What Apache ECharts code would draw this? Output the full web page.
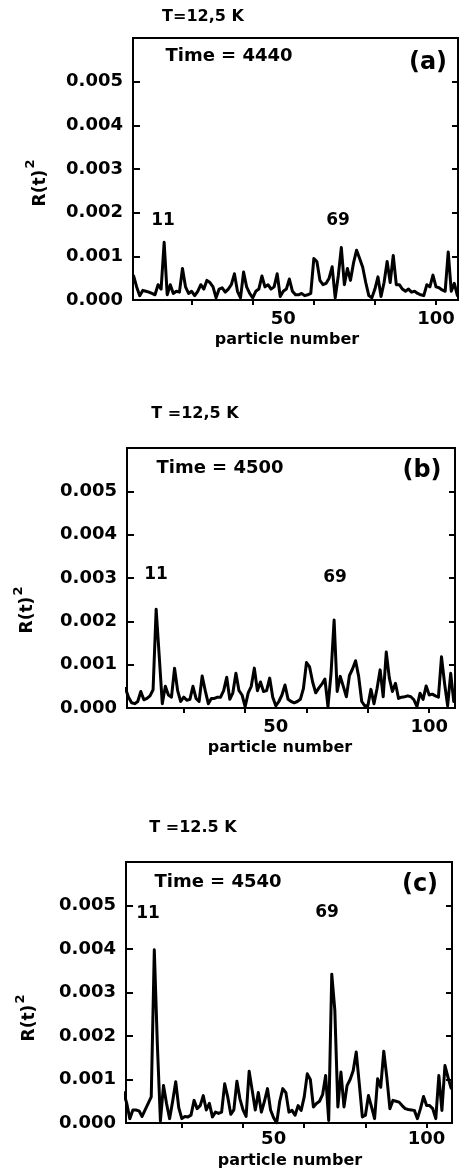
<!DOCTYPE html>
<html>
<head>
<meta charset="utf-8">
<script src="https://cdn.jsdelivr.net/npm/echarts@6/dist/echarts.min.js"></script>
<style>
html,body{margin:0;padding:0;background:#fff;}
#chart{width:459px;height:1171px;}
</style>
</head>
<body>
<div id="chart"></div>
<script>
// ---------------- data ----------------
const particles = [1,2,3,4,5,6,7,8,9,10,11,12,13,14,15,16,17,18,19,20,
  21,22,23,24,25,26,27,28,29,30,31,32,33,34,35,36,37,38,39,40,
  41,42,43,44,45,46,47,48,49,50,51,52,53,54,55,56,57,58,59,60,
  61,62,63,64,65,66,67,68,69,70,71,72,73,74,75,76,77,78,79,80,
  81,82,83,84,85,86,87,88,89,90,91,92,93,94,95,96,97,98,99,100,
  101,102,103,104,105,106,107,108];

// R(t)^2, Time = 4440
const valuesA = [
  0.00055,0.00030,0.00010,0.00022,0.00020,0.00018,0.00015,0.00012,0.00035,0.00025,
  0.00132,0.00012,0.00035,0.00015,0.00020,0.00018,0.00072,0.00030,0.00015,0.00020,
  0.00010,0.00020,0.00035,0.00025,0.00045,0.00040,0.00030,0.00005,0.00025,0.00028,
  0.00018,0.00025,0.00035,0.00060,0.00020,0.00005,0.00064,0.00030,0.00015,0.00005,
  0.00020,0.00025,0.00055,0.00030,0.00035,0.00025,0.00030,0.00060,0.00008,0.00020,
  0.00025,0.00048,0.00020,0.00012,0.00012,0.00015,0.00010,0.00012,0.00015,0.00095,
  0.00088,0.00045,0.00035,0.00038,0.00050,0.00076,0.00005,0.00055,0.00120,0.00035,
  0.00072,0.00045,0.00085,0.00114,0.00095,0.00075,0.00040,0.00010,0.00005,0.00025,
  0.00053,0.00008,0.00040,0.00088,0.00040,0.00102,0.00035,0.00035,0.00025,0.00020,
  0.00025,0.00018,0.00020,0.00015,0.00012,0.00010,0.00035,0.00030,0.00057,0.00030,
  0.00028,0.00023,0.00020,0.00110,0.00020,0.00038,0.00010,0.00020];

// R(t)^2, Time = 4500
const valuesB = [
  0.00045,0.00025,0.00012,0.00010,0.00015,0.00038,0.00019,0.00022,0.00028,0.00042,
  0.00228,0.00120,0.00010,0.00050,0.00030,0.00025,0.00092,0.00040,0.00015,0.00025,
  0.00018,0.00020,0.00050,0.00022,0.00015,0.00074,0.00040,0.00010,0.00022,0.00022,
  0.00025,0.00025,0.00040,0.00071,0.00020,0.00035,0.00080,0.00040,0.00030,0.00003,
  0.00035,0.00050,0.00092,0.00040,0.00060,0.00038,0.00040,0.00069,0.00025,0.00005,
  0.00015,0.00030,0.00053,0.00020,0.00015,0.00012,0.00015,0.00020,0.00045,0.00105,
  0.00095,0.00060,0.00035,0.00046,0.00055,0.00067,0.00003,0.00080,0.00203,0.00038,
  0.00073,0.00050,0.00026,0.00075,0.00090,0.00109,0.00073,0.00015,0.00005,0.00005,
  0.00043,0.00010,0.00045,0.00088,0.00026,0.00129,0.00069,0.00038,0.00057,0.00022,
  0.00025,0.00026,0.00028,0.00026,0.00019,0.00003,0.00034,0.00020,0.00051,0.00030,
  0.00032,0.00028,0.00025,0.00118,0.00057,0.00005,0.00080,0.00015];

// R(t)^2, Time = 4540
const valuesC = [
  0.00070,0.00045,0.00010,0.00030,0.00030,0.00028,0.00015,0.00030,0.00045,0.00060,
  0.00398,0.00180,0.00005,0.00086,0.00045,0.00010,0.00050,0.00095,0.00035,0.00010,
  0.00015,0.00014,0.00018,0.00052,0.00033,0.00040,0.00063,0.00030,0.00045,0.00014,
  0.00025,0.00022,0.00025,0.00090,0.00060,0.00020,0.00030,0.00096,0.00055,0.00030,
  0.00015,0.00119,0.00075,0.00030,0.00070,0.00025,0.00050,0.00079,0.00030,0.00012,
  0.00000,0.00050,0.00079,0.00070,0.00025,0.00029,0.00018,0.00040,0.00029,0.00060,
  0.00113,0.00100,0.00037,0.00045,0.00050,0.00065,0.00109,0.00006,0.00342,0.00260,
  0.00037,0.00117,0.00037,0.00086,0.00100,0.00120,0.00163,0.00090,0.00014,0.00018,
  0.00063,0.00037,0.00010,0.00102,0.00082,0.00165,0.00105,0.00033,0.00052,0.00050,
  0.00048,0.00040,0.00033,0.00031,0.00030,0.00029,0.00010,0.00033,0.00061,0.00040,
  0.00040,0.00033,0.00010,0.00109,0.00029,0.00132,0.00105,0.00080];

const xTickValues = [20, 40, 60, 80, 100];
const xLabelValues = [50, 100];
const yTickValues = [0, 0.001, 0.002, 0.003, 0.004, 0.005];

const panelLetters = ['(a)', '(b)', '(c)'];
const tempLabels = ['T=12,5 K', 'T =12,5 K', 'T =12.5 K'];
const timeLabels = ['Time = 4440', 'Time = 4500', 'Time = 4540'];
const peakLabels = ['11', '69'];
const seriesValues = [valuesA, valuesB, valuesC];

// ---------------- layout ----------------
const FONT = '"DejaVu Sans", sans-serif';
const panels = [
  { grid: {left:133, top:38, width:325, height:262}, xmin:0.8, xmax:107.2, xLabelMargin:10,
    temp:[203,17], time:[229,56], letter:[428,63], peak11:[163,221], peak69:[338,221],
    rt:[41,188], sup:[31,164], pn:[287,340] },
  { grid: {left:127, top:448, width:328, height:260}, xmin:1.5, xmax:108.4, xLabelMargin:10,
    temp:[195,414], time:[220,468], letter:[422,471], peak11:[156,575], peak69:[335,578],
    rt:[28,615], sup:[19,591], pn:[280,748] },
  { grid: {left:126, top:862, width:326, height:261}, xmin:1.75, xmax:108.3, xLabelMargin:7,
    temp:[193,828], time:[218,882], letter:[420,885], peak11:[148,914], peak69:[327,913],
    rt:[30,1023], sup:[21,999], pn:[290,1161] }
];

const grids = [], xAxes = [], yAxes = [], series = [], graphics = [];

function txt(t, pos, size, extra) {
  return Object.assign({
    type: 'text', x: pos[0], y: pos[1],
    style: { text: t, fill: '#000', font: 'bold ' + size + 'px ' + FONT, align: 'center', verticalAlign: 'middle' },
    silent: true
  }, extra || {});
}

panels.forEach((p, i) => {
  grids.push(Object.assign({ show: true, borderColor: '#000', borderWidth: 2, backgroundColor: 'transparent', containLabel: false }, p.grid));
  xAxes.push({
    type: 'value', gridIndex: i, min: p.xmin, max: p.xmax, position: 'bottom',
    axisLine: { show: true, onZero: false, lineStyle: { color: '#000', width: 2 } },
    axisTick: { show: true, inside: false, length: 5, lineStyle: { color: '#000', width: 2 }, customValues: xTickValues },
    axisLabel: { show: true, customValues: xLabelValues, margin: p.xLabelMargin, fontSize: 18, fontWeight: 'bold', color: '#000', fontFamily: FONT },
    splitLine: { show: false }
  });
  yAxes.push({
    type: 'value', gridIndex: i, min: 0, max: 0.006, interval: 0.001, position: 'left',
    axisLine: { show: true, onZero: false, lineStyle: { color: '#000', width: 2 } },
    axisTick: { show: true, inside: true, length: 7, lineStyle: { color: '#000', width: 2 } },
    axisLabel: { show: true, customValues: yTickValues, margin: 10, fontSize: 18, fontWeight: 'bold', color: '#000', fontFamily: FONT,
      formatter: v => Number(v).toFixed(3) },
    splitLine: { show: false }
  });
  yAxes.push({
    type: 'value', gridIndex: i, min: 0, max: 0.006, interval: 0.001, position: 'right',
    axisLine: { show: true, onZero: false, lineStyle: { color: '#000', width: 2 } },
    axisTick: { show: true, inside: true, length: 6, lineStyle: { color: '#000', width: 2 } },
    axisLabel: { show: false },
    splitLine: { show: false }
  });
  series.push({
    type: 'line', xAxisIndex: i, yAxisIndex: 2 * i,
    data: particles.map((n, k) => [n, seriesValues[i][k]]),
    symbol: 'none', showSymbol: false, clip: true,
    lineStyle: { color: '#000', width: 3, join: 'round', cap: 'round' },
    animation: false, silent: true
  });
  graphics.push(txt(tempLabels[i], p.temp, 16));
  graphics.push(txt(timeLabels[i], p.time, 18));
  graphics.push(txt(panelLetters[i], p.letter, 24));
  graphics.push(txt(peakLabels[0], p.peak11, 17));
  graphics.push(txt(peakLabels[1], p.peak69, 17));
  graphics.push(txt('R(t)', p.rt, 17, { rotation: Math.PI / 2 }));
  graphics.push(txt('2', p.sup, 13, { rotation: Math.PI / 2 }));
  graphics.push(txt('particle number', p.pn, 16));
});

const chart = echarts.init(document.getElementById('chart'), null, { renderer: 'canvas', width: 459, height: 1171 });
chart.setOption({
  backgroundColor: '#fff',
  animation: false,
  grid: grids,
  xAxis: xAxes,
  yAxis: yAxes,
  series: series,
  graphic: graphics
});
</script>
</body>
</html>
